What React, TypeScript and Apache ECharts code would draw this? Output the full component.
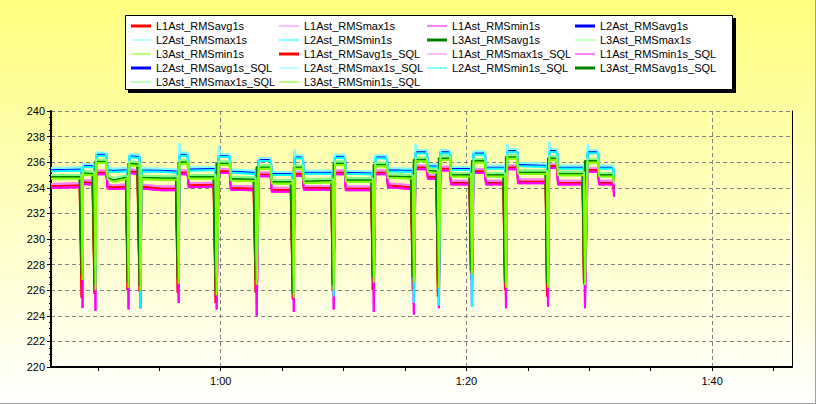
import React, { useEffect, useRef } from 'react';
import * as echarts from 'echarts';

// time in minutes
const times = [
  46.19, 48.52, 48.68, 48.76, 48.80, 49.57, 49.73, 49.81, 49.87, 50.70,
  50.80, 51.25, 52.30, 52.42, 52.50, 52.56, 53.22, 53.40, 53.48, 53.55,
  55.20, 56.36, 56.50, 56.58, 56.64, 56.74, 57.31, 57.40, 59.42, 59.59,
  59.67, 59.84, 59.94, 60.73, 60.84, 62.68, 62.85, 62.93, 63.10, 64.07,
  64.16, 65.70, 65.87, 65.95, 66.00, 66.10, 66.68, 66.77, 69.00, 69.12,
  69.20, 69.30, 70.10, 70.19, 72.25, 72.38, 72.46, 72.58, 73.52, 73.62,
  75.48, 75.64, 75.72, 75.86, 75.96, 76.78, 76.87, 77.55, 77.68, 77.76,
  77.88, 78.66, 78.75, 80.24, 80.37, 80.45, 80.58, 81.51, 81.60, 83.00,
  83.14, 83.22, 83.32, 83.42, 84.12, 84.21, 86.44, 86.56, 86.64, 86.74,
  86.84, 87.37, 87.46, 89.45, 89.57, 89.65, 89.86, 89.96, 90.71, 90.80,
  91.94, 92.02,
];

const l1Avg = [
  234.15, 234.20, 225.4, 234.45, 234.45, 234.40, 225.7, 235.20, 235.20, 235.20,
  234.10, 234.05, 234.10, 226.0, 235.30, 235.30, 235.25, 225.9, 234.10, 234.10,
  233.95, 233.95, 225.8, 235.20, 235.20, 235.20, 235.20, 234.20, 234.25, 225.0,
  235.30, 235.30, 235.30, 235.30, 234.00, 233.95, 225.8, 235.05, 235.05, 235.05,
  233.85, 233.85, 225.3, 235.10, 235.10, 235.10, 235.10, 234.00, 234.00, 226.0,
  235.20, 235.20, 235.20, 233.95, 233.95, 226.0, 235.20, 235.20, 235.20, 234.20,
  234.05, 226.0, 235.60, 235.60, 235.60, 235.60, 234.85, 234.85, 225.5, 235.50,
  235.50, 235.50, 234.40, 234.40, 227.3, 235.30, 235.30, 235.30, 234.40, 234.40,
  226.0, 235.60, 235.60, 235.60, 235.60, 234.50, 234.50, 225.5, 235.70, 235.70,
  235.70, 235.70, 234.40, 234.40, 226.5, 235.40, 235.40, 235.40, 235.40, 234.40,
  234.40, 233.90,
];
const l1Max = [
  234.30, 234.35, 234.35, 226.8, 234.60, 234.55, 234.55, 227.0, 235.35, 235.35,
  234.25, 234.20, 234.25, 234.25, 227.5, 235.45, 235.40, 235.40, 227.2, 234.25,
  234.10, 234.10, 234.10, 227.0, 235.35, 235.35, 235.35, 234.35, 234.40, 234.40,
  226.5, 235.45, 235.45, 235.45, 234.15, 234.10, 234.10, 227.2, 235.20, 235.20,
  234.00, 234.00, 234.00, 226.8, 235.25, 235.25, 235.25, 234.15, 234.15, 234.15,
  227.5, 235.35, 235.35, 234.10, 234.10, 234.10, 227.5, 235.35, 235.35, 234.35,
  234.20, 234.20, 227.5, 235.75, 235.75, 235.75, 235.00, 235.00, 235.00, 227.0,
  235.65, 235.65, 234.55, 234.55, 234.55, 228.6, 235.45, 235.45, 234.55, 234.55,
  234.55, 227.5, 235.75, 235.75, 235.75, 234.65, 234.65, 234.65, 227.0, 235.85,
  235.85, 235.85, 234.55, 234.55, 234.55, 228.0, 235.55, 235.55, 235.55, 234.55,
  234.55, 234.20,
];
const l1Min = [
  234.00, 234.05, 234.05, 224.6, 234.30, 234.25, 234.25, 224.4, 235.05, 235.05,
  233.95, 233.90, 233.95, 233.95, 224.5, 235.15, 235.10, 235.10, 224.6, 233.95,
  233.80, 233.80, 233.80, 225.0, 235.05, 235.05, 235.05, 234.05, 234.10, 234.10,
  224.5, 235.15, 235.15, 235.15, 233.85, 233.80, 233.80, 224.0, 234.90, 234.90,
  233.70, 233.70, 233.70, 224.3, 234.95, 234.95, 234.95, 233.85, 233.85, 233.85,
  224.5, 235.05, 235.05, 233.80, 233.80, 233.80, 224.3, 235.05, 235.05, 234.05,
  233.90, 233.90, 224.1, 235.45, 235.45, 235.45, 234.70, 234.70, 234.70, 224.6,
  235.35, 235.35, 234.25, 234.25, 234.25, 224.8, 235.15, 235.15, 234.25, 234.25,
  234.25, 224.6, 235.45, 235.45, 235.45, 234.35, 234.35, 234.35, 224.7, 235.55,
  235.55, 235.55, 234.25, 234.25, 234.25, 224.6, 235.25, 235.25, 235.25, 234.25,
  234.25, 233.30,
];
const l2Avg = [
  235.40, 235.45, 235.45, 228.6, 235.75, 235.70, 235.70, 227.5, 236.60, 236.60,
  235.40, 235.35, 235.40, 235.40, 228.0, 236.50, 236.45, 236.45, 226.5, 235.40,
  235.35, 235.30, 235.30, 228.0, 236.60, 236.60, 236.60, 235.45, 235.50, 235.50,
  227.0, 236.50, 236.50, 236.50, 235.30, 235.20, 235.20, 228.0, 236.20, 236.20,
  235.10, 235.10, 235.10, 227.0, 236.40, 236.40, 236.40, 235.20, 235.20, 235.20,
  226.5, 236.45, 236.45, 235.20, 235.15, 235.15, 228.0, 236.40, 236.40, 235.40,
  235.35, 235.35, 226.8, 236.80, 236.80, 236.80, 235.70, 235.70, 235.70, 226.4,
  236.80, 236.80, 235.50, 235.50, 235.50, 226.8, 236.70, 236.70, 235.60, 235.60,
  235.60, 228.0, 236.90, 236.90, 236.90, 235.80, 235.75, 235.75, 228.0, 236.90,
  236.90, 236.90, 235.60, 235.60, 235.60, 228.0, 236.80, 236.80, 236.80, 235.60,
  235.60, 235.00,
];
const l2Max = [
  235.53, 235.58, 235.58, 230.0, 235.88, 235.83, 235.83, 229.0, 236.73, 236.73,
  235.53, 235.48, 235.53, 235.53, 229.5, 236.63, 236.58, 236.58, 228.0, 235.53,
  235.48, 235.43, 235.43, 229.5, 237.50, 236.73, 236.73, 235.58, 235.63, 235.63,
  228.5, 237.30, 236.63, 236.63, 235.43, 235.33, 235.33, 229.5, 236.33, 236.33,
  235.23, 235.23, 235.23, 228.5, 237.00, 236.53, 236.53, 235.33, 235.33, 235.33,
  228.0, 236.58, 236.58, 235.33, 235.28, 235.28, 229.5, 236.53, 236.53, 235.53,
  235.48, 235.48, 228.3, 237.40, 236.93, 236.93, 235.83, 235.83, 235.83, 228.0,
  236.93, 236.93, 235.63, 235.63, 235.63, 228.3, 236.83, 236.83, 235.73, 235.73,
  235.73, 229.5, 237.40, 237.03, 237.03, 235.93, 235.88, 235.88, 229.5, 237.60,
  237.03, 237.03, 235.73, 235.73, 235.73, 229.5, 237.40, 236.93, 236.93, 235.73,
  235.73, 235.13,
];
const l2Min = [
  235.30, 235.35, 235.35, 228.4, 235.65, 235.60, 235.60, 226.6, 236.50, 236.50,
  235.30, 235.25, 235.30, 235.30, 227.0, 236.40, 236.35, 236.35, 224.6, 235.30,
  235.25, 235.20, 235.20, 227.0, 236.50, 236.50, 236.50, 235.35, 235.40, 235.40,
  226.0, 236.40, 236.40, 236.40, 235.20, 235.10, 235.10, 227.0, 236.10, 236.10,
  235.00, 235.00, 235.00, 226.0, 236.30, 236.30, 236.30, 235.10, 235.10, 235.10,
  225.5, 236.35, 236.35, 235.10, 235.05, 235.05, 227.0, 236.30, 236.30, 235.30,
  235.25, 235.25, 225.0, 236.70, 236.70, 236.70, 235.60, 235.60, 235.60, 224.8,
  236.70, 236.70, 235.40, 235.40, 235.40, 224.7, 236.60, 236.60, 235.50, 235.50,
  235.50, 227.0, 236.80, 236.80, 236.80, 235.70, 235.65, 235.65, 227.0, 236.80,
  236.80, 236.80, 235.50, 235.50, 235.50, 227.0, 236.70, 236.70, 236.70, 235.50,
  235.50, 234.90,
];
const l3Avg = [
  234.85, 234.85, 227.2, 235.15, 235.15, 235.10, 226.4, 236.05, 236.05, 236.05,
  234.80, 234.60, 234.80, 226.6, 235.90, 235.90, 235.85, 226.3, 234.80, 234.80,
  234.75, 234.75, 226.9, 236.00, 236.00, 236.00, 236.00, 234.85, 234.85, 225.9,
  235.90, 235.90, 235.90, 235.90, 234.70, 234.65, 226.8, 235.60, 235.60, 235.60,
  234.45, 234.45, 225.7, 235.60, 235.60, 235.60, 235.60, 234.50, 234.55, 226.4,
  235.90, 235.90, 235.90, 234.60, 234.60, 227.0, 235.80, 235.80, 235.80, 234.90,
  234.85, 227.0, 236.20, 236.20, 236.20, 236.20, 235.35, 235.30, 226.5, 236.30,
  236.30, 236.30, 235.00, 235.00, 227.5, 236.10, 236.10, 236.10, 235.00, 235.00,
  226.6, 236.40, 236.40, 236.40, 236.40, 235.20, 235.20, 226.5, 236.30, 236.30,
  236.30, 236.30, 235.10, 235.10, 226.8, 236.10, 236.10, 236.10, 236.10, 235.00,
  235.00, 234.50,
];
const l3Max = [
  235.00, 235.00, 235.00, 228.6, 235.30, 235.25, 235.25, 227.8, 236.20, 236.20,
  234.95, 234.75, 234.95, 234.95, 228.0, 236.05, 236.00, 236.00, 227.6, 234.95,
  234.90, 234.90, 234.90, 228.3, 236.15, 236.15, 236.15, 235.00, 235.00, 235.00,
  227.2, 236.05, 236.05, 236.05, 234.85, 234.80, 234.80, 228.2, 235.75, 235.75,
  234.60, 234.60, 234.60, 227.0, 235.75, 235.75, 235.75, 234.65, 234.70, 234.70,
  227.8, 236.05, 236.05, 234.75, 234.75, 234.75, 228.4, 235.95, 235.95, 235.05,
  235.00, 235.00, 228.4, 236.35, 236.35, 236.35, 235.50, 235.45, 235.45, 228.0,
  236.45, 236.45, 235.15, 235.15, 235.15, 228.8, 236.25, 236.25, 235.15, 235.15,
  235.15, 228.0, 236.55, 236.55, 236.55, 235.35, 235.35, 235.35, 228.0, 236.45,
  236.45, 236.45, 235.25, 235.25, 235.25, 228.2, 236.25, 236.25, 236.25, 235.15,
  235.15, 234.65,
];
const l3Min = [
  234.73, 234.73, 234.73, 226.8, 235.03, 234.98, 234.98, 226.0, 235.93, 235.93,
  234.68, 234.48, 234.68, 234.68, 226.2, 235.78, 235.73, 235.73, 226.0, 234.68,
  234.63, 234.63, 234.63, 226.5, 235.88, 235.88, 235.88, 234.73, 234.73, 234.73,
  225.6, 235.78, 235.78, 235.78, 234.58, 234.53, 234.53, 226.4, 235.48, 235.48,
  234.33, 234.33, 234.33, 225.4, 235.48, 235.48, 235.48, 234.38, 234.43, 234.43,
  226.0, 235.78, 235.78, 234.48, 234.48, 234.48, 226.6, 235.68, 235.68, 234.78,
  234.73, 234.73, 226.6, 236.08, 236.08, 236.08, 235.23, 235.18, 235.18, 226.2,
  236.18, 236.18, 234.88, 234.88, 234.88, 227.2, 235.98, 235.98, 234.88, 234.88,
  234.88, 226.2, 236.28, 236.28, 236.28, 235.08, 235.08, 235.08, 226.2, 236.18,
  236.18, 236.18, 234.98, 234.98, 234.98, 226.4, 235.98, 235.98, 235.98, 234.88,
  234.88, 234.38,
];

const seriesNames = [
  'L1Ast_RMSavg1s', 'L1Ast_RMSmax1s', 'L1Ast_RMSmin1s', 'L2Ast_RMSavg1s',
  'L2Ast_RMSmax1s', 'L2Ast_RMSmin1s', 'L3Ast_RMSavg1s', 'L3Ast_RMSmax1s',
  'L3Ast_RMSmin1s', 'L1Ast_RMSavg1s_SQL', 'L1Ast_RMSmax1s_SQL', 'L1Ast_RMSmin1s_SQL',
  'L2Ast_RMSavg1s_SQL', 'L2Ast_RMSmax1s_SQL', 'L2Ast_RMSmin1s_SQL', 'L3Ast_RMSavg1s_SQL',
  'L3Ast_RMSmax1s_SQL', 'L3Ast_RMSmin1s_SQL',
];
const seriesData = [l1Avg, l1Max, l1Min, l2Avg, l2Max, l2Min, l3Avg, l3Max, l3Min];
const seriesColors = ['#FF0000', '#FF80FF', '#FF00FF', '#0000FF', '#80FFFF', '#00FFFF', '#008000', '#80FF80', '#80FF00'];

const xLabelValues = [60, 80, 100];
const xTickValues = [50, 55, 60, 65, 70, 75, 80, 85, 90, 95, 100, 105];

const FONT = 'Liberation Sans, Arial, sans-serif';
// legend icons: 20x3 box, thick (3px) or thin (1px) bar
const THICK = 'path://M0,0H20V3H0Z';
const THIN = 'path://M0,0L0,0ZM0,1H20V2H0ZM20,3L20,3Z';

function fmtTime(v: number) {
  const h = Math.floor(v / 60);
  const m = Math.round(v - h * 60);
  return h + ':' + String(m).padStart(2, '0');
}

export default function App() {
  const ref = useRef<HTMLDivElement>(null);
  useEffect(() => {
    if (!ref.current) return;
    const chart = echarts.init(ref.current, undefined, { renderer: 'svg' });
    const series: any[] = seriesNames.map((name, i) => {
      const k = i % 9;
      const c = seriesColors[k];
      return {
        name,
        type: 'line',
        data: times.map((t, j) => [t, seriesData[k][j]]),
        showSymbol: false,
        symbol: 'none',
        color: c,
        lineStyle: { width: 2, color: c },
        itemStyle: { color: c },
        emphasis: { disabled: true },
        silent: true,
      };
    });
    const legendCols = [0, 1, 2, 3].map((col) => ({
      orient: 'vertical',
      left: 131 + col * 148,
      top: 19,
      padding: 0,
      itemGap: 0,
      itemWidth: 20,
      itemHeight: 3,
      itemTextGap: 7,
      selectedMode: false,
      itemStyle: { borderWidth: 0 },
      lineStyle: { width: 0 },
      textStyle: { fontSize: 11, color: '#000', fontFamily: FONT, lineHeight: 14 },
      data: seriesNames
        .map((n, i) => ({ n, i }))
        .filter((o) => o.i % 4 === col)
        .map((o) => ({ name: o.n, icon: (o.i % 9) % 3 === 0 ? THICK : THIN })),
    }));
    chart.setOption({
      animation: false,
      graphic: [
        {
          type: 'rect', z: -100, silent: true,
          shape: { x: 0, y: 0, width: 816, height: 404 },
          style: {
            fill: new echarts.graphic.LinearGradient(0, 0, 0, 1, [
              { offset: 0, color: '#FFFF80' },
              { offset: 1, color: '#FFFFFF' },
            ]),
          },
        },
        { type: 'line', z: -99, silent: true, shape: { x1: 815.5, y1: 0, x2: 815.5, y2: 404 }, style: { stroke: '#A0A0A0', lineWidth: 1 } },
        { type: 'line', z: -99, silent: true, shape: { x1: 0, y1: 403.5, x2: 816, y2: 403.5 }, style: { stroke: '#A0A0A0', lineWidth: 1 } },
        { type: 'rect', z: 3, silent: true, shape: { x: 128, y: 18, width: 608, height: 75 }, style: { fill: '#000' } },
        { type: 'rect', z: 3, silent: true, shape: { x: 125.5, y: 15.5, width: 607, height: 74 }, style: { fill: '#FFFFFF', stroke: '#000', lineWidth: 1 } },
      ],
      legend: legendCols,
      grid: { left: 51, right: 24, top: 111, bottom: 37, containLabel: false, outerBoundsMode: 'none' },
      xAxis: [
        {
          type: 'value',
          min: 46.19,
          max: 106.5,
          axisLine: { show: true, lineStyle: { color: '#000', width: 2 } },
          axisTick: { show: true, length: 4, lineStyle: { color: '#000' }, customValues: xTickValues },
          axisLabel: { fontSize: 11, color: '#000', fontFamily: FONT, margin: 8, customValues: xLabelValues, formatter: (v: number) => fmtTime(v) },
          splitLine: { show: false },
        },
        {
          type: 'value',
          min: 46.19,
          max: 106.5,
          position: 'bottom',
          axisLine: { show: false },
          axisTick: { show: false, customValues: xLabelValues },
          axisLabel: { show: false, customValues: xLabelValues },
          splitLine: { show: true, lineStyle: { color: '#808080', type: [4, 3], width: 1 } },
        },
      ],
      yAxis: [
        {
          type: 'value',
          min: 220,
          max: 240,
          interval: 2,
          axisLine: { show: true, lineStyle: { color: '#000', width: 2 } },
          axisTick: { show: true, length: 4, lineStyle: { color: '#000' } },
          minorTick: { show: true, splitNumber: 4, length: 2, lineStyle: { color: '#000' } },
          axisLabel: { fontSize: 11, color: '#000', fontFamily: FONT, margin: 6 },
          splitLine: { show: true, lineStyle: { color: '#808080', type: [4, 3], width: 1 } },
        },
        {
          type: 'value',
          min: 220,
          max: 240,
          position: 'right',
          axisLine: { show: true, onZero: false, lineStyle: { color: '#000', width: 1 } },
          axisTick: { show: false },
          axisLabel: { show: false },
          splitLine: { show: false },
        },
      ],
      series,
    });
    return () => chart.dispose();
  }, []);
  return <div ref={ref} style={{ position: 'absolute', left: 0, top: 0, width: 816, height: 404 }} />;
}
